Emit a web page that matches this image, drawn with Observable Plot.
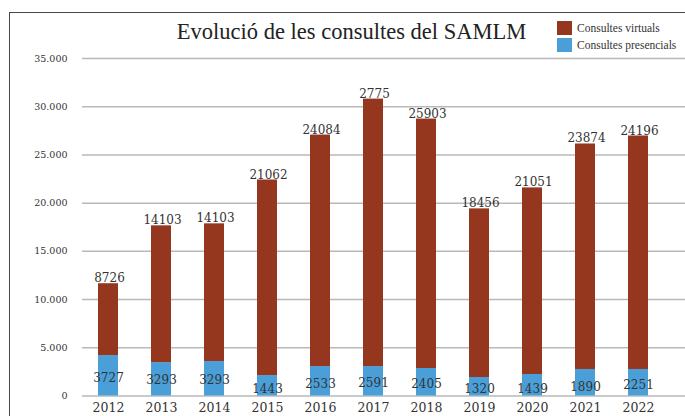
<!DOCTYPE html>
<html><head><meta charset="utf-8">
<script src="https://cdn.jsdelivr.net/npm/d3@7"></script>
<script src="https://cdn.jsdelivr.net/npm/@observablehq/plot@0.6"></script>
<style>
body{margin:0;background:#fff;}
#wrap{position:relative;width:685px;height:416px;overflow:hidden;background:#fff;}
#chart{position:absolute;left:0;top:0;}
#frame{position:absolute;left:9px;top:12px;width:740px;height:460px;border:1.5px solid #484848;box-sizing:border-box;pointer-events:none;}
#title{position:absolute;left:0;width:703px;top:17px;text-align:center;font-family:"Liberation Serif",serif;font-size:22.5px;line-height:30px;color:#222;white-space:nowrap;}
#legend{position:absolute;left:557px;top:19px;font-family:"Liberation Serif",serif;font-size:11.5px;color:#333;}
.item{display:flex;align-items:center;height:17px;white-space:nowrap;}
.sw{width:15px;height:14px;margin-right:5px;}
</style>
</head><body>
<div id="wrap">
  <div id="chart"></div>
  <div id="frame"></div>
  <div id="title">Evolució de les consultes del SAMLM</div>
  <div id="legend"></div>
</div>
<script>
// ---- data ----
const years = ["2012","2013","2014","2015","2016","2017","2018","2019","2020","2021","2022"];
// bar segment heights
const presencial = [4190,3460,3570,2120,3050,3050,2850,1920,2230,2750,2750];
const virtual    = [7454,14187,14284,20280,24010,27740,25870,17486,19350,23384,24212];
// data labels as printed on the chart
const virtualLabels    = ["8726","14103","14103","21062","24084","2775","25903","18456","21051","23874","24196"];
const presencialLabels = [3727,3293,3293,1443,2533,2591,2405,1320,1439,1890,2251];
const yTicks = [0,5000,10000,15000,20000,25000,30000,35000];
const seriesNames = ["Consultes virtuals","Consultes presencials"];
const seriesColors = ["#95361f","#4a9fd8"];

// ---- tables ----
const rows = [];
years.forEach((y,i)=>rows.push({year:y,type:"Consultes presencials",value:presencial[i]}));
years.forEach((y,i)=>rows.push({year:y,type:"Consultes virtuals",value:virtual[i]}));
const tops = years.map((y,i)=>({year:y,total:presencial[i]+virtual[i],label:virtualLabels[i]}));
const bottoms = years.map((y,i)=>({year:y,mid:presencialLabels[i]/2,label:String(presencialLabels[i])}));

const fmt = d3.formatLocale({decimal:",",thousands:".",grouping:[3],currency:["","€"]}).format(",.0f");

const chart = Plot.plot({
  width:685, height:416,
  marginTop:58, marginBottom:20.5, marginLeft:82, marginRight:0,
  style:{fontFamily:"DejaVu Serif, serif", color:"#333", background:"transparent"},
  x:{type:"band", domain:years, range:[96.45,649.75], paddingInner:0.615, paddingOuter:0, align:0.5, label:null},
  y:{domain:[0,35000], label:null},
  color:{domain:seriesNames, range:seriesColors},
  marks:[
    Plot.gridY(yTicks,{stroke:"#b9b9b9", strokeOpacity:1, strokeWidth:1.5}),
    Plot.barY(rows,{x:"year", y:"value", fill:"type"}),
    Plot.axisY({ticks:yTicks, tickSize:0, tickPadding:15, tickFormat:fmt, fontSize:9.5}),
    Plot.axisX({tickSize:0, tickPadding:7, fontSize:12.5}),
    Plot.text(tops,{x:"year", y:"total", text:"label", lineAnchor:"bottom", dy:-1.5, dx:1, fontSize:12, fill:"#333"}),
    Plot.text(bottoms,{x:"year", y:"mid", text:"label", lineAnchor:"middle", fontSize:12, fill:"#333"})
  ]
});
document.getElementById("chart").appendChild(chart);

const lg = document.getElementById("legend");
seriesNames.forEach((n,i)=>{
  const it = document.createElement("div"); it.className="item";
  const sw = document.createElement("div"); sw.className="sw"; sw.style.background=seriesColors[i];
  const tx = document.createElement("span"); tx.textContent=n;
  it.appendChild(sw); it.appendChild(tx); lg.appendChild(it);
});
</script>
</body></html>
